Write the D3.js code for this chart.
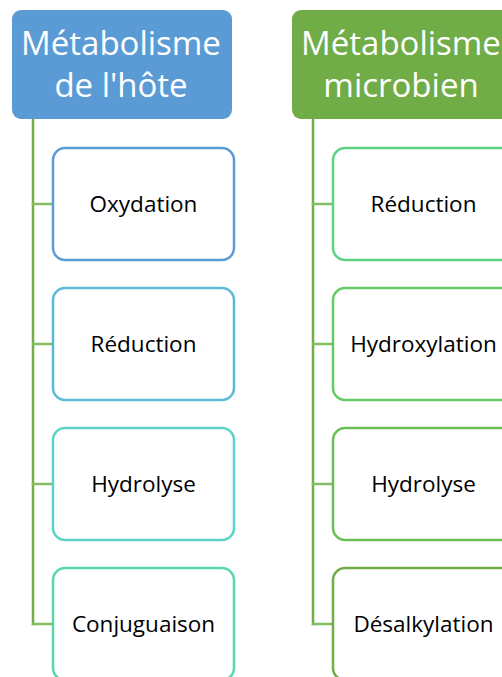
<!DOCTYPE html>
<html>
<head>
<meta charset="utf-8">
<script src="https://cdn.jsdelivr.net/npm/d3@7"></script>
<style>
  html, body { margin: 0; padding: 0; background: #fff; overflow: hidden; }
</style>
</head>
<body>
<div id="chart"></div>
<script>
// Hierarchy data: two parents, four children each
var groups = ["Métabolisme\nde l'hôte", "Métabolisme\nmicrobien"];
var groupColors = ["#5B9BD5", "#70AD47"];
var hostSteps = ["Oxydation", "Réduction", "Hydrolyse", "Conjuguaison"];
var microbeSteps = ["Réduction", "Hydroxylation", "Hydrolyse", "Désalkylation"];
var hostColors = ["#5B9BD5", "#5BBAD7", "#5BD3C6", "#5BD5AA"];
var microbeColors = ["#5DD27F", "#64CB63", "#69BF55", "#70AD47"];

var svgWidth = 502;
var svgHeight = 677;

var svg = d3.select("#chart")
    .append("svg")
    .attr("width", svgWidth)
    .attr("height", svgHeight);

// scales
var xGroup = d3.scaleLinear().domain([0, 1]).range([12, 292]);
var yStep = d3.scaleLinear().domain([0, 3]).range([204, 624]);

var headW = 220, headH = 109, headTop = 10;
var boxW = 181, boxH = 112;
var lineX = 21, boxX = 41;

var font = "'Open Sans', 'Noto Sans', sans-serif";

var columns = groups.map(function(g, i) {
    return {
        name: g,
        color: groupColors[i],
        steps: (i === 0 ? hostSteps : microbeSteps).map(function(s, j) {
            return {label: s, color: (i === 0 ? hostColors : microbeColors)[j], idx: j};
        })
    };
});

var col = svg.selectAll("g.col")
    .data(columns)
    .enter()
    .append("g")
    .attr("class", "col")
    .attr("transform", (d, i) => `translate(${xGroup(i)}, 0)`);

// connectors
col.append("line")
    .attr("x1", lineX).attr("x2", lineX)
    .attr("y1", headTop + headH)
    .attr("y2", d => yStep(d.steps.length - 1) + 1.25)
    .attr("stroke", "#70AD47")
    .attr("stroke-width", 2.5);

col.selectAll("line.branch")
    .data(d => d.steps)
    .enter()
    .append("line")
    .attr("class", "branch")
    .attr("x1", lineX - 1.25).attr("x2", boxX)
    .attr("y1", d => yStep(d.idx)).attr("y2", d => yStep(d.idx))
    .attr("stroke", "#84BD62")
    .attr("stroke-width", 2.5);

// header boxes
col.append("rect")
    .attr("x", 0).attr("y", headTop)
    .attr("width", headW).attr("height", headH)
    .attr("rx", 9)
    .attr("fill", d => d.color);

col.append("text")
    .attr("text-anchor", "middle")
    .attr("fill", "#fff")
    .style("font-family", font)
    .style("font-size", "33px")
    .selectAll("tspan")
    .data(d => d.name.split("\n"))
    .enter()
    .append("tspan")
    .attr("x", headW / 2 - 1)
    .attr("y", (d, i) => 55 + i * 42)
    .text(d => d);

// child boxes
var step = col.selectAll("g.step")
    .data(d => d.steps)
    .enter()
    .append("g")
    .attr("class", "step");

step.append("rect")
    .attr("x", boxX).attr("y", d => yStep(d.idx) - boxH / 2)
    .attr("width", boxW).attr("height", boxH)
    .attr("rx", 12)
    .attr("fill", "#fff")
    .attr("stroke", d => d.color)
    .attr("stroke-width", 2.5);

step.append("text")
    .attr("x", boxX + boxW / 2)
    .attr("y", d => yStep(d.idx))
    .attr("dy", "0.36em")
    .attr("text-anchor", "middle")
    .attr("fill", "#000")
    .style("font-family", font)
    .style("font-size", "22.5px")
    .text(d => d.label);
</script>
</body>
</html>
